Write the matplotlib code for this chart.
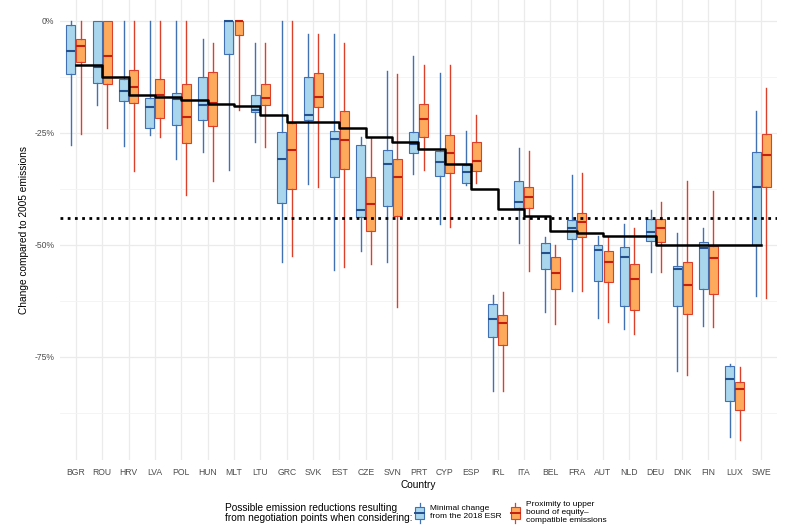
import matplotlib
matplotlib.use("Agg")
import matplotlib.pyplot as plt
from matplotlib.legend_handler import HandlerBase
from matplotlib.patches import Rectangle
from matplotlib.lines import Line2D
from matplotlib.ticker import NullFormatter

plt.rcParams['font.family'] = ['Liberation Sans', 'DejaVu Sans']

# --- data (percent change vs 2005) ---
countries = ["BGR", "ROU", "HRV", "LVA", "POL", "HUN", "MLT", "LTU", "GRC", "SVK",
             "EST", "CZE", "SVN", "PRT", "CYP", "ESP", "IRL", "ITA", "BEL", "FRA",
             "AUT", "NLD", "DEU", "DNK", "FIN", "LUX", "SWE"]

esr_target = [-10, -12.7, -16.7, -17, -17.7, -18.7, -19, -21, -22.7, -22.7,
              -24, -26, -27, -28.7, -32, -37.7, -42, -43.7, -47, -47.5,
              -48, -48, -50, -50, -50, -50, -50]
eu_average = -44

# minimal change from the 2018 ESR
min_low = [-27.8, -18.9, -28.0, -25.5, -30.8, -29.3, -33.4, -27.0, -54.0, -36.5,
           -55.7, -51.5, -53.8, -34.3, -45.5, -36.7, -82.6, -49.6, -65.1, -60.4,
           -66.5, -68.9, -56.1, -78.2, -68.2, -93.0, -61.4]
min_q1 = [-11.9, -14.0, -18.0, -24.0, -23.2, -22.1, -7.5, -20.4, -40.8, -22.1,
          -34.9, -43.8, -41.3, -29.6, -34.6, -36.2, -70.7, -41.8, -55.5, -48.8,
          -58.1, -63.7, -49.2, -63.7, -60.0, -84.9, -50.1]
min_med = [-6.7, -10.3, -15.7, -19.4, -17.6, -18.8, 0.0, -20.0, -30.8, -21.1,
           -26.5, -42.3, -32.0, -27.6, -31.5, -33.7, -66.7, -40.6, -51.8, -46.4,
           -51.2, -52.7, -47.1, -55.5, -50.8, -80.0, -37.1]
min_q3 = [-0.9, 0.0, -13.1, -17.2, -16.1, -12.7, 0.0, -16.7, -24.8, -12.7,
          -24.6, -27.8, -28.9, -24.8, -29.1, -32.3, -63.3, -35.8, -49.7, -44.5,
          -50.0, -50.6, -44.2, -54.7, -49.4, -77.1, -29.3]
min_high = [0.0, 0.0, 0.0, 0.0, 0.0, -4.1, 0.0, -4.9, 0.0, -2.9,
            -3.0, -25.9, -11.3, -8.0, -11.6, -24.6, -61.3, -28.4, -48.4, -34.5,
            -48.1, -45.3, -42.3, -47.4, -46.4, -76.7, -20.2]

# proximity to upper bound of equity-compatible emissions
eq_low = [-25.4, -23.9, -33.5, -25.9, -39.0, -35.8, -20.0, -28.2, -52.6, -37.1,
          -55.1, -54.4, -63.9, -33.4, -46.0, -36.2, -82.6, -55.8, -67.8, -60.4,
          -67.4, -70.0, -56.2, -79.1, -68.5, -93.6, -61.9]
eq_q1 = [-9.3, -14.2, -18.4, -21.7, -27.4, -23.5, -3.3, -18.9, -37.7, -19.4,
         -33.1, -47.0, -43.6, -25.9, -34.1, -33.5, -72.4, -41.9, -59.9, -48.4,
         -58.4, -64.5, -49.5, -65.5, -61.0, -86.9, -37.2]
eq_med = [-5.6, -7.9, -14.9, -16.6, -21.6, -18.5, 0.0, -17.3, -28.9, -17.1,
          -26.7, -41.0, -35.0, -22.0, -29.6, -31.4, -67.6, -39.4, -56.3, -45.0,
          -54.0, -57.8, -46.2, -59.0, -53.1, -82.3, -30.0]
eq_q3 = [-4.1, 0.0, -11.0, -13.0, -14.2, -11.4, 0.0, -14.2, -22.8, -11.8,
         -20.1, -34.9, -31.0, -18.7, -25.5, -27.0, -65.7, -37.1, -52.7, -43.0,
         -51.5, -54.4, -44.3, -54.0, -50.3, -80.6, -25.3]
eq_high = [0.0, 0.0, 0.0, 0.0, 0.0, -5.0, 0.0, -4.9, 0.0, -2.9,
           -5.0, -26.3, -11.9, -10.0, -10.0, -21.1, -60.5, -29.1, -50.1, -34.0,
           -48.4, -46.4, -40.6, -35.8, -38.0, -77.4, -15.1]

BLUE_FILL, BLUE_EDGE, BLUE_MED = "#a9d6ec", "#4170b3", "#24508e"
ORANGE_FILL, ORANGE_EDGE, ORANGE_MED = "#fdaa5c", "#dc3f2a", "#c4200f"


def make_stats(low, q1, med, q3, high):
    return [dict(whislo=a, q1=b, med=c, q3=d, whishi=e, fliers=[])
            for a, b, c, d, e in zip(low, q1, med, q3, high)]


class BoxKey(HandlerBase):
    """Small boxplot glyph for the legend"""
    def __init__(self, face, edge, med):
        super().__init__()
        self.face, self.edge, self.med = face, edge, med

    def create_artists(self, legend, orig_handle, xdescent, ydescent,
                       width, height, fontsize, trans):
        cx = width / 2 - xdescent
        bw = 7
        y0 = -ydescent
        bot, top = y0 + height * 0.2, y0 + height * 0.8
        rect = Rectangle((cx - bw / 2, bot), bw, top - bot, facecolor=self.face,
                         edgecolor=self.edge, lw=0.8, transform=trans)
        wl = Line2D([cx, cx], [y0, bot], color=self.edge, lw=0.9, transform=trans)
        wh = Line2D([cx, cx], [top, y0 + height], color=self.edge, lw=0.9, transform=trans)
        md = Line2D([cx - bw / 2, cx + bw / 2], [y0 + height / 2] * 2,
                    color=self.med, lw=1.4, transform=trans)
        return [wl, wh, rect, md]


fig = plt.figure(figsize=(8, 5.29), dpi=100)
ax = fig.add_axes([60 / 800, 1 - 460 / 529, 717 / 800, 460 / 529])

pos = list(range(1, len(countries) + 1))
off, bw = 0.19, 0.34

for stats, shift, face, edge, medc in [
        (make_stats(min_low, min_q1, min_med, min_q3, min_high), -off, BLUE_FILL, BLUE_EDGE, BLUE_MED),
        (make_stats(eq_low, eq_q1, eq_med, eq_q3, eq_high), off, ORANGE_FILL, ORANGE_EDGE, ORANGE_MED)]:
    ax.bxp(stats, positions=[p + shift for p in pos], widths=bw,
           patch_artist=True, showfliers=False, showcaps=False,
           boxprops=dict(facecolor=face, edgecolor=edge, linewidth=0.8),
           whiskerprops=dict(color=edge, linewidth=1.0),
           medianprops=dict(color=medc, linewidth=1.5, solid_capstyle='butt'),
           manage_ticks=False, zorder=2)

ax.step(pos, esr_target, where='post', color='black', lw=1.8, zorder=4)
ax.axhline(eu_average, color='black', lw=2, linestyle=(0, (1, 1.6)), zorder=4)

ax.set_xlim(0.4, len(countries) + 0.6)
ax.set_ylim(-98.1, 4.6)
ax.set_xticks(pos)
ax.set_xticklabels(countries)
ax.set_yticks([0, -25, -50, -75])
ax.set_yticklabels(["0%", "-25%", "-50%", "-75%"])
ax.set_yticks([-12.5, -37.5, -62.5, -87.5], minor=True)
ax.yaxis.set_minor_formatter(NullFormatter())
ax.tick_params(axis='both', which='both', length=0, labelsize=6.2, labelcolor='#4d4d4d')
ax.tick_params(axis='x', pad=6)
ax.tick_params(axis='y', pad=4)
ax.grid(which='major', color='#ebebeb', lw=0.9, zorder=0)
ax.grid(which='minor', axis='y', color='#f3f3f3', lw=0.6, zorder=0)
ax.set_axisbelow(True)
for s in ax.spines.values():
    s.set_visible(False)

ax.set_xlabel("Country", fontsize=7.3, labelpad=2)
ax.set_ylabel("Change compared to 2005 emissions", fontsize=7.3, labelpad=4)

# legend at the bottom, title to the left of the keys
fig.text(225 / 800, 1 - 513 / 529,
         "Possible emission reductions resulting\nfrom negotiation points when considering:",
         fontsize=7.3, va='center', ha='left', linespacing=1.0)
h1 = Rectangle((0, 0), 1, 1)
h2 = Rectangle((0, 0), 1, 1)
fig.legend([h1, h2],
           ["Minimal change\nfrom the 2018 ESR",
            "Proximity to upper\nbound of equity\u2013\ncompatible emissions"],
           handler_map={h1: BoxKey(BLUE_FILL, BLUE_EDGE, BLUE_MED),
                        h2: BoxKey(ORANGE_FILL, ORANGE_EDGE, ORANGE_MED)},
           loc='center left', bbox_to_anchor=(410 / 800, 1 - 513 / 529),
           ncol=2, frameon=False, fontsize=6, handlelength=1.3,
           handleheight=3.4, handletextpad=0.6, columnspacing=1.0,
           borderpad=0, labelspacing=0)

fig.savefig("out.png", dpi=100)
